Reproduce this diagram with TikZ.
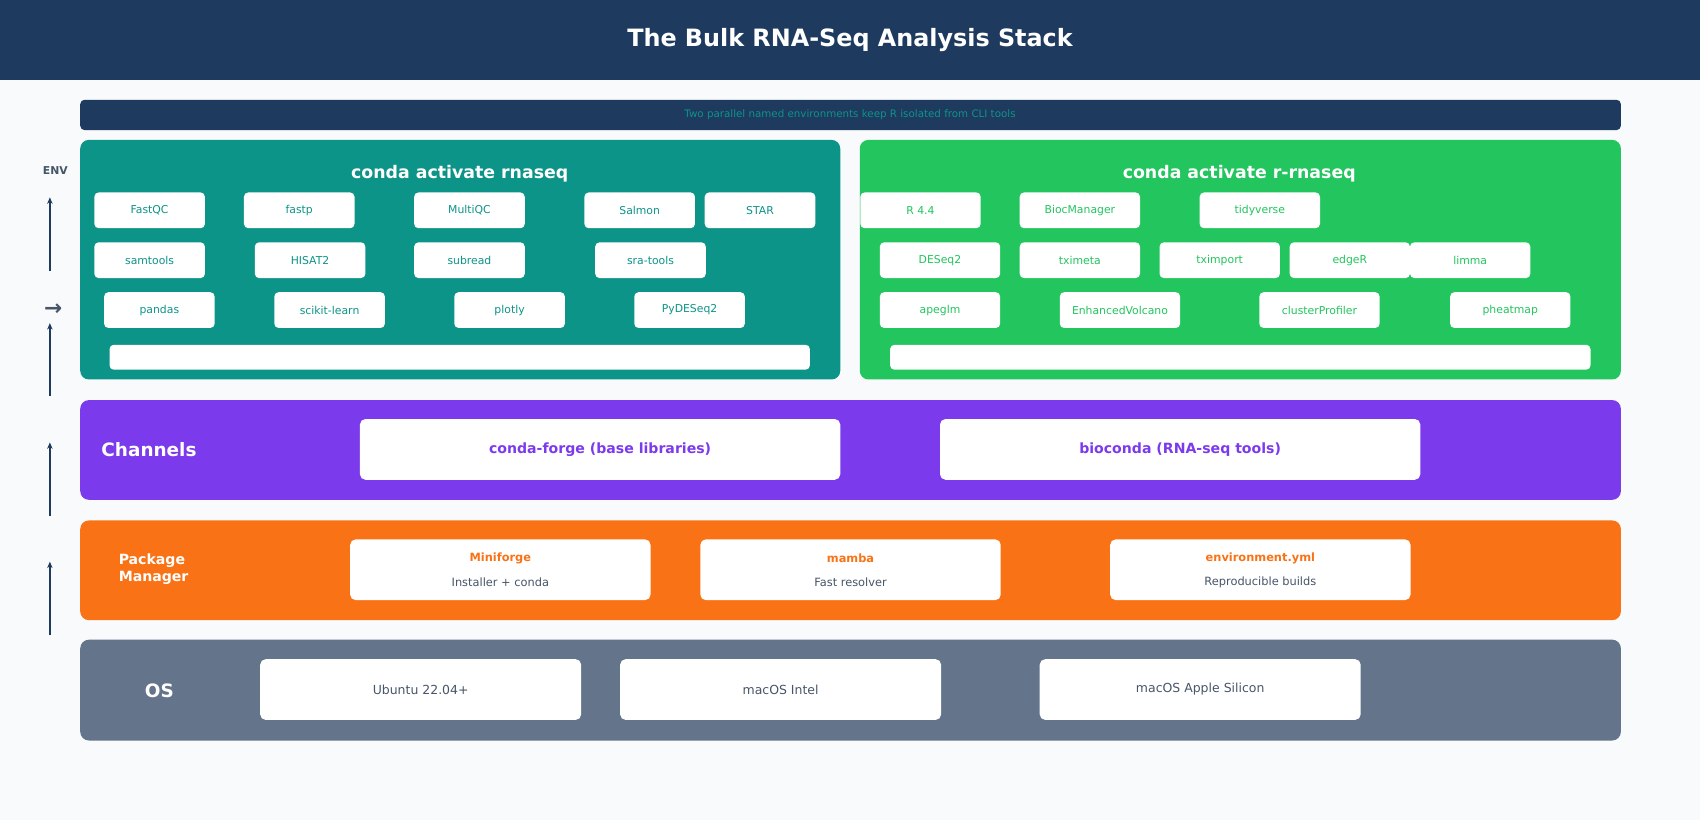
\documentclass[tikz,border=0pt]{standalone}
\usepackage{fontspec}
\setmainfont{DejaVu Sans}
\usetikzlibrary{arrows.meta}
\definecolor{navy}{HTML}{1E3A5F}
\definecolor{bg}{HTML}{F8FAFC}
\definecolor{teal}{HTML}{0D9488}
\definecolor{grn}{HTML}{22C55E}
\definecolor{purp}{HTML}{7C3AED}
\definecolor{orng}{HTML}{F97316}
\definecolor{slate}{HTML}{64748B}
\definecolor{txt}{HTML}{475569}
\begin{document}
\begin{tikzpicture}[x=1pt,y=-1pt,
  layer/.style={rounded corners=8pt},
  pill/.style={fill=white,rounded corners=4pt,minimum height=33pt,inner sep=0pt,font=\fontsize{10}{12}\selectfont},
  tp/.style={pill,minimum width=102pt,text=teal},
  gp/.style={pill,minimum width=111pt,text=grn},
  bigpill/.style={fill=white,rounded corners=5pt,minimum height=56pt,inner sep=0pt},
  up/.style={draw=navy,line width=1.2pt,-{Stealth[length=6pt,width=5pt,open]}}]
\useasboundingbox (0,0) rectangle (1568,756);
\fill[bg] (0,0) rectangle (1568,756);
\fill[navy] (0,0) rectangle (1568,74);
\node[text=white,font=\fontsize{22}{26}\selectfont\bfseries] (title) at (784,37) {The Bulk RNA-Seq Analysis Stack};
\fill[navy,rounded corners=4pt] (74,92) rectangle (1495,120);
\node[text=teal,font=\fontsize{9.5}{11}\selectfont] (sub) at (784,106) {Two parallel named environments keep R isolated from CLI tools};
% env boxes
\fill[teal,layer] (74,129) rectangle (775,350);
\fill[grn,layer] (793,129) rectangle (1495,350);
\node[text=white,font=\fontsize{16}{19}\selectfont\bfseries] (t1) at (424,160) {conda activate rnaseq};
\node[text=white,font=\fontsize{16}{19}\selectfont\bfseries] (t2) at (1143,160) {conda activate r-rnaseq};
\foreach \n/\x/\y in {FastQC/138/194,fastp/276/194,MultiQC/433/194,Salmon/590/194,STAR/701/194,
  samtools/138/240,HISAT2/286/240,subread/433/240,sra-tools/600/240,
  pandas/147/286,scikit-learn/304/286,plotly/470/286,PyDESeq2/636/286}
  \node[tp] (t-\n) at (\x,\y) {\n};
\foreach \n/\x/\y in {R 4.4/849/194,BiocManager/996/194,tidyverse/1162/194,
  DESeq2/867/240,tximeta/996/240,tximport/1125/240,edgeR/1245/240,limma/1356/240,
  apeglm/867/286,EnhancedVolcano/1033/286,clusterProfiler/1217/286,pheatmap/1393/286}
  \node[gp] (g-\n) at (\x,\y) {\n};
\fill[white,rounded corners=4pt] (101,318) rectangle (747,341);
\fill[white,rounded corners=4pt] (821,318) rectangle (1467,341);
% channels
\fill[purp,layer] (74,369) rectangle (1495,461);
\node[text=white,font=\fontsize{17}{20}\selectfont\bfseries,anchor=west] (ch) at (90,415) {Channels};
\node[bigpill,minimum width=443pt,text=purp,font=\fontsize{13}{16}\selectfont\bfseries] (cf) at (553.5,414.5) {conda-forge (base libraries)};
\node[bigpill,minimum width=443pt,text=purp,font=\fontsize{13}{16}\selectfont\bfseries] (bc) at (1088.5,414.5) {bioconda (RNA-seq tools)};
% package manager
\fill[orng,layer] (74,480) rectangle (1495,572);
\node[text=white,font=\fontsize{13}{15}\selectfont\bfseries,anchor=west,align=left] (pm) at (106,525) {Package\\Manager};
\foreach \nm/\a/\b/\x in {mf/Miniforge/Installer + conda/461.5,mb/mamba/Fast resolver/784.5,ey/environment.yml/Reproducible builds/1162.5}{
  \node[bigpill,minimum width=277pt] (\nm) at (\x,525.5) {};
  \node[text=orng,font=\fontsize{10.5}{12}\selectfont\bfseries] (\nm-a) at (\x,515) {\a};
  \node[text=txt,font=\fontsize{10.5}{12}\selectfont] (\nm-b) at (\x,537) {\b};
}
% OS
\fill[slate,layer] (74,590) rectangle (1495,683);
\node[text=white,font=\fontsize{17}{20}\selectfont\bfseries] (os) at (147,637) {OS};
\node[bigpill,minimum width=296pt,text=txt,font=\fontsize{11.5}{14}\selectfont] (u) at (388,636) {Ubuntu 22.04+};
\node[bigpill,minimum width=296pt,text=txt,font=\fontsize{11.5}{14}\selectfont] (mi) at (720,636) {macOS Intel};
\node[bigpill,minimum width=296pt,text=txt,font=\fontsize{11.5}{14}\selectfont] (ma) at (1107,636) {macOS Apple Silicon};
% left rail
\node[text=txt,font=\fontsize{10}{12}\selectfont\bfseries] (env) at (51,157) {ENV};
\node[text=txt,font=\fontsize{20}{22}\selectfont\bfseries] (arr) at (49,286) {→};
\foreach \i/\a/\b in {1/250/182,2/365/298,3/476/408,4/586/518}{
  \coordinate (s\i) at (46,\a); \coordinate (e\i) at (46,\b);
  \draw[up] (s\i) -- (e\i);
}
\end{tikzpicture}
\end{document}
